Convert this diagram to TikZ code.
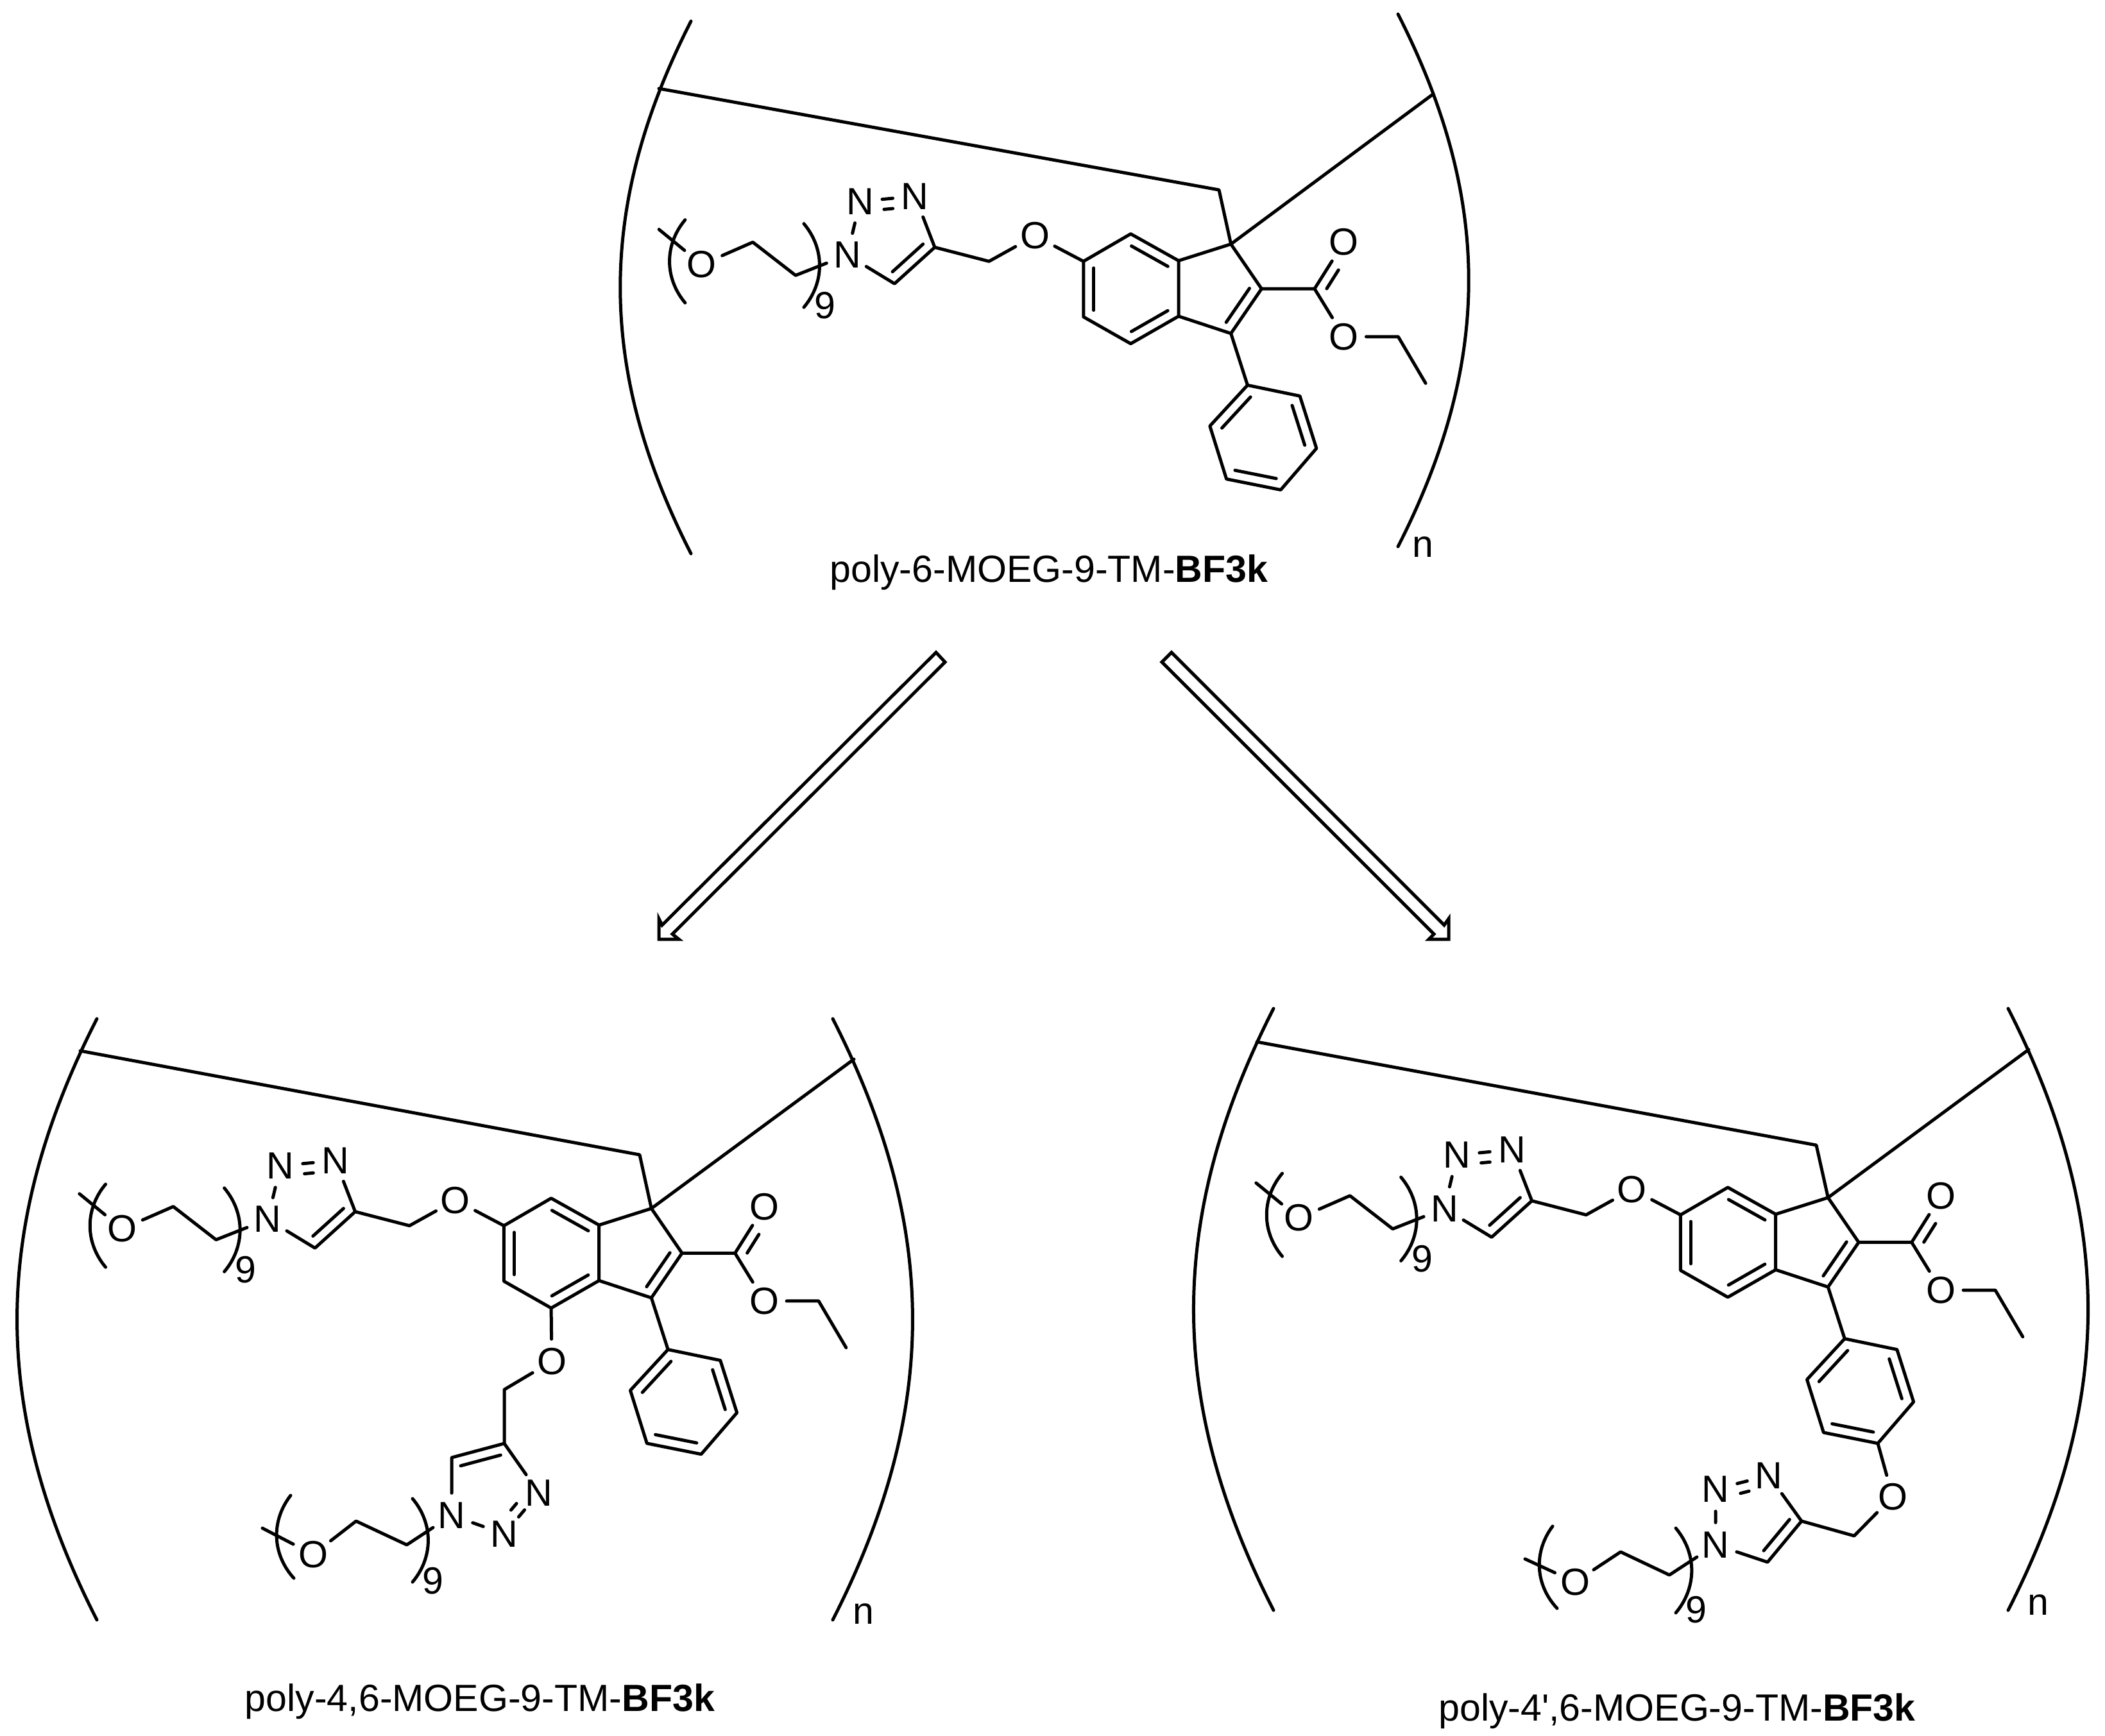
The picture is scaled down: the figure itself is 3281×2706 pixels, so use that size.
\documentclass[tikz,border=0pt]{standalone}
\usepackage{fontspec}
\setmainfont{Liberation Sans}[Ligatures=TeXOff]
\usetikzlibrary{calc}
\tikzset{
	bond/.style={line width=0.05cm,line cap=round,line join=round},
	atom/.style={circle,inner sep=0pt,minimum size=0.68cm,font=\fontsize{16.8}{20}\selectfont},
	tag/.style={inner sep=0pt,font=\fontsize{16.8}{20}\selectfont},
	hollow/.style={line width=0.05cm,line join=miter}
}
% second line of a double bond
\newcommand{\dbond}[4][.12]{\draw[bond] ($(#2)!#1!(#3)!#4!90:(#3)$) -- ($(#3)!#1!(#2)!#4!-90:(#2)$);}

\begin{document}
\begin{tikzpicture}[x=0.01cm,y=-0.01cm]
		\useasboundingbox (0,0) rectangle (3281,2706);
		% the part all three polymers share
		\foreach \s/\px/\py in {t/1918.6/380.5,l/1015.3/1883.7,r/2849.3/1866.8}{
		\begin{scope}[shift={(\px,\py)},scale=0.995,name prefix=\s-]
			\coordinate (c1) at (0,0);
			\coordinate (c2) at (48,70);
			\coordinate (c3) at (0,140);
			\coordinate (c3a) at (-82,113);
			\coordinate (c7a) at (-82,26);
			\coordinate (c7) at (-157,-16);
			\coordinate (c6) at (-231,27);
			\coordinate (c5) at (-231,114);
			\coordinate (c4) at (-157,156);
			\draw[bond] (c1) -- (c2) -- (c3) -- (c3a) -- (c7a) -- (c1);
			\draw[bond] (c7a) -- (c7) -- (c6) -- (c5) -- (c4) -- (c3a);
			\dbond{c2}{c3}{-0.16cm}
			\dbond{c7a}{c7}{0.16cm}
			\dbond{c6}{c5}{0.16cm}
			\dbond{c4}{c3a}{0.16cm}
			% ester
			\coordinate (cc) at (131,70);
			\node[atom] (oa) at (177,-3) {O};
			\node[atom] (ob) at (177,145) {O};
			\coordinate (et1) at (262,145);
			\coordinate (et2) at (305,218);
			\draw[bond] (c2) -- (cc) -- (oa);
			\draw[bond] (cc) -- (ob) -- (et1) -- (et2);
			\draw[bond] ($(cc)!.12!(oa)!-0.16cm!90:(oa)$) -- ($(cc)!.52!(oa)!-0.16cm!90:(oa)$);
			% phenyl
			\coordinate (p1) at (26,221);
			\coordinate (p2) at (108,238);
			\coordinate (p3) at (134,320);
			\coordinate (p4) at (78,385);
			\coordinate (p5) at (-7,368);
			\coordinate (p6) at (-33,285);
			\draw[bond] (c3) -- (p1);
			\draw[bond] (p1) -- (p2) -- (p3) -- (p4) -- (p5) -- (p6) -- cycle;
			\dbond{p2}{p3}{-0.16cm}
			\dbond{p4}{p5}{-0.16cm}
			\dbond{p6}{p1}{-0.16cm}
			% triazole and chain on c6
			\node[atom] (oc) at (-307,-13) {O};
			\coordinate (ch) at (-379,27);
			\coordinate (tc4) at (-464,5);
			\coordinate (tc5) at (-527,62);
			\node[atom] (tn1) at (-601,17) {N};
			\node[atom] (tn2) at (-581,-67) {N};
			\node[atom] (tn3) at (-495,-75) {N};
			\draw[bond] (c6) -- (oc) -- (ch) -- (tc4) -- (tc5) -- (tn1) -- (tn2) -- (tn3) -- (tc4);
			\dbond{tc4}{tc5}{-0.16cm}
			\dbond[.42]{tn2}{tn3}{-0.16cm}
			\node[atom] (po) at (-829,32) {O};
			\coordinate (pe) at (-896,-23);
			\coordinate (pa) at (-749,-3);
			\coordinate (pb) at (-682,49);
			\draw[bond] (pe) -- (po) -- (pa) -- (pb) -- (tn1);
			\draw[bond] (-855,-38) to[bend right=40] (-855,92);
			\draw[bond] (-669,-32) to[bend left=40] (-669,99);
			\node[tag] (nine) at (-636,96) {9};
		\end{scope}
		}
		% top polymer
		\draw[bond] (1077,33) to[bend right=27] (1077,863);
		\draw[bond] (2179,22) to[bend left=27] (2179,852);
		\coordinate (ta) at (1027,138);
		\coordinate (tb) at (1900,296);
		\coordinate (tc) at (2232,148);
		\draw[bond] (ta) -- (tb) -- (t-c1) -- (tc);
		\node[tag] (tn) at (2218,853) {n};
		\node[tag] (tname) at (1635,892) {poly-6-MOEG-9-TM-\textbf{BF3k}};
		% left polymer
		\draw[bond] (151,1588) to[bend right=27] (151,2525);
		\draw[bond] (1298,1588) to[bend left=27] (1298,2525);
		\coordinate (la) at (125,1638);
		\coordinate (lb) at (997,1800);
		\coordinate (lc) at (1331,1651);
		\draw[bond] (la) -- (lb) -- (l-c1) -- (lc);
		\node[atom] (lo) at (860,2122) {O};
		\coordinate (lch) at (786,2166);
		\coordinate (ltc4) at (786,2250);
		\coordinate (ltc5) at (704,2272);
		\node[atom] (ln1) at (704,2362) {N};
		\node[atom] (ln2) at (786,2391) {N};
		\node[atom] (ln3) at (840,2327) {N};
		\draw[bond] (l-c4) -- (lo) -- (lch) -- (ltc4) -- (ltc5) -- (ln1) -- (ln2) -- (ln3) -- (ltc4);
		\dbond{ltc4}{ltc5}{0.16cm}
		\dbond[.42]{ln3}{ln2}{-0.16cm}
		\node[atom] (lpo) at (488,2423) {O};
		\coordinate (lpe) at (409,2382);
		\coordinate (lpa) at (555,2371);
		\coordinate (lpb) at (634,2408);
		\draw[bond] (lpe) -- (lpo) -- (lpa) -- (lpb) -- (ln1);
		\draw[bond] (453,2331) to[bend right=40] (458,2460);
		\draw[bond] (643,2336) to[bend left=40] (643,2466);
		\node[tag] (lnine) at (675,2464) {9};
		\node[tag] (ln) at (1346,2516) {n};
		\node[tag] (lname) at (748,2652) {poly-4,6-MOEG-9-TM-\textbf{BF3k}};
		% right polymer
		\draw[bond] (1985,1572) to[bend right=27] (1985,2510);
		\draw[bond] (3130,1572) to[bend left=27] (3130,2510);
		\coordinate (ra) at (1959,1624);
		\coordinate (rb) at (2831,1785);
		\coordinate (rc) at (3162,1636);
		\draw[bond] (ra) -- (rb) -- (r-c1) -- (rc);
		\node[atom] (ro) at (2950,2333) {O};
		\coordinate (rch) at (2890,2394);
		\coordinate (rtc4) at (2808,2371);
		\coordinate (rtc5) at (2755,2435);
		\node[atom] (rn1) at (2674,2408) {N};
		\node[atom] (rn2) at (2674,2321) {N};
		\node[atom] (rn3) at (2757,2300) {N};
		\draw[bond] (r-p4) -- (ro) -- (rch) -- (rtc4) -- (rtc5) -- (rn1) -- (rn2) -- (rn3) -- (rtc4);
		\dbond{rtc4}{rtc5}{-0.16cm}
		\dbond[.42]{rn2}{rn3}{-0.16cm}
		\node[atom] (rpo) at (2455,2466) {O};
		\coordinate (rpe) at (2377,2430);
		\coordinate (rpa) at (2526,2419);
		\coordinate (rpb) at (2602,2455);
		\draw[bond] (rpe) -- (rpo) -- (rpa) -- (rpb) -- (rn1);
		\draw[bond] (2420,2379) to[bend right=40] (2427,2507);
		\draw[bond] (2612,2382) to[bend left=40] (2612,2514);
		\node[tag] (rnine) at (2644,2509) {9};
		\node[tag] (rn) at (3177,2502) {n};
		\node[tag] (rname) at (2614,2667) {poly-4',6-MOEG-9-TM-\textbf{BF3k}};
		% reaction arrows
		\draw[hollow] (1459,1017) -- (1473,1032) -- (1048,1456) -- (1058,1464) -- (1027,1464) -- (1027,1432) -- (1032,1442) -- cycle;
		\draw[hollow] (1826,1017) -- (1811,1032) -- (2235,1456) -- (2227,1464) -- (2258,1464) -- (2258,1432) -- (2251,1442) -- cycle;
	\end{tikzpicture}
\end{document}
